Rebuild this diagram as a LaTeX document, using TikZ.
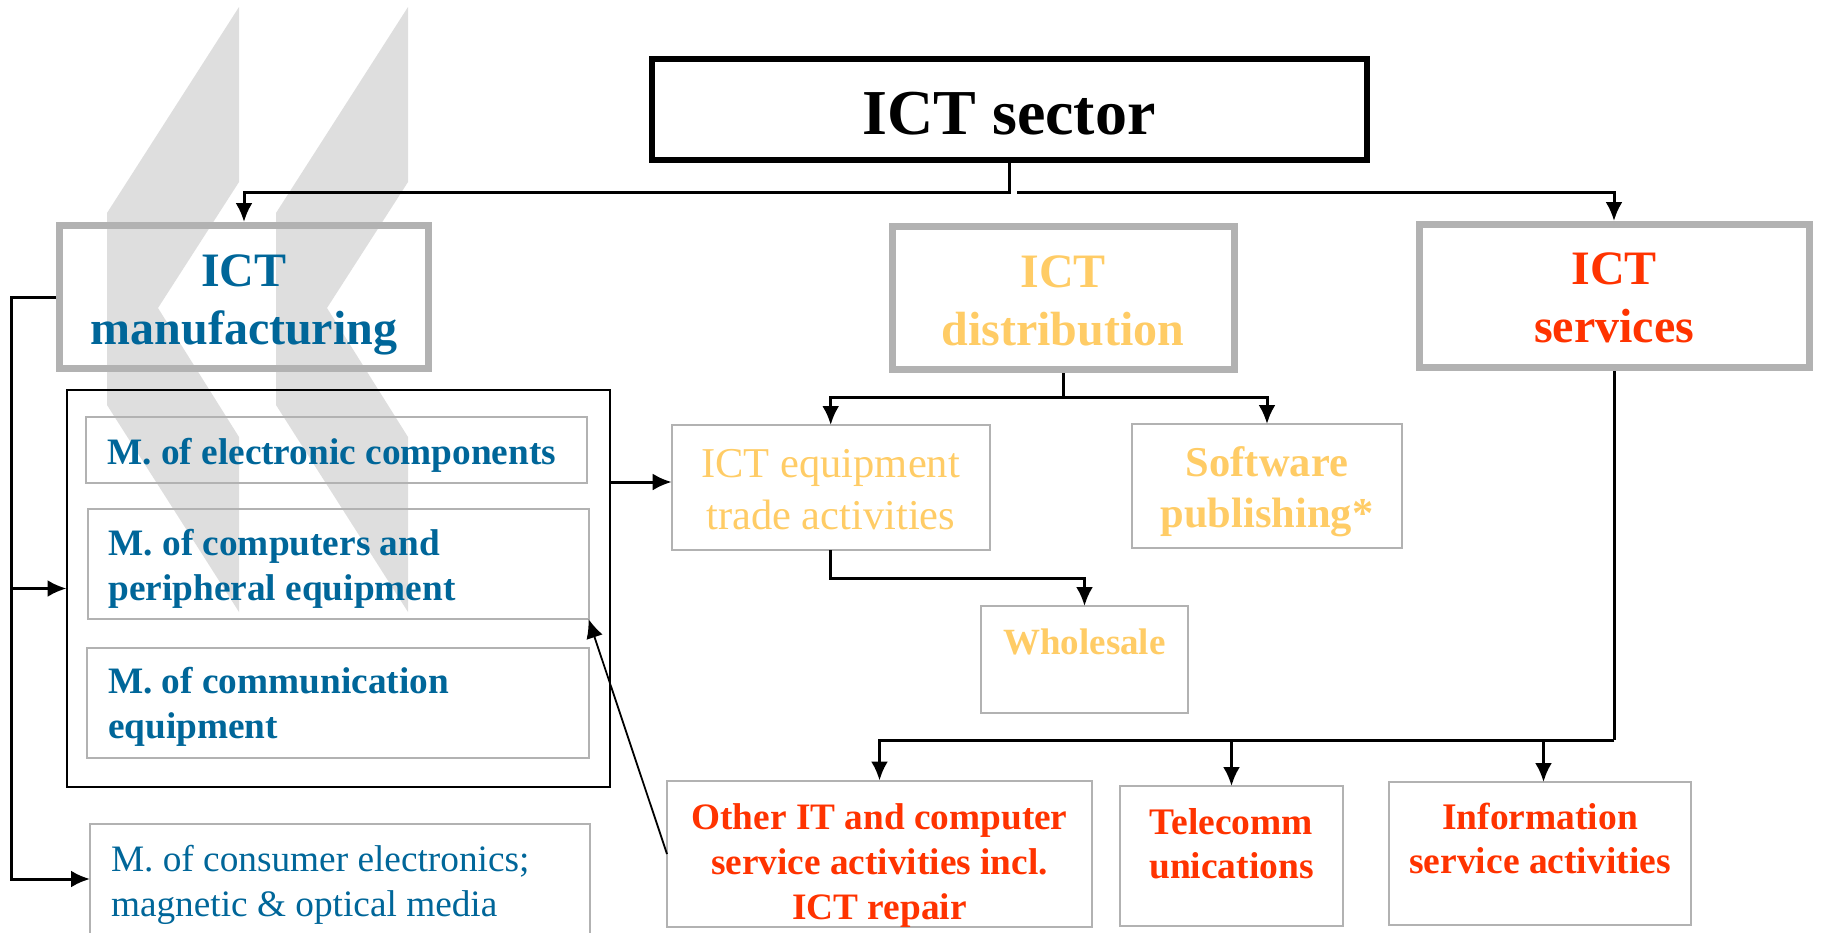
\documentclass[tikz,border=0pt]{standalone}
\usepackage{fontspec}
\setmainfont{Liberation Serif}
\usetikzlibrary{arrows.meta}
\definecolor{mfgblue}{HTML}{006699}
\definecolor{distyellow}{HTML}{FFCC66}
\definecolor{servred}{HTML}{FF3300}
\definecolor{boxgray}{HTML}{B2B2B2}
\definecolor{markgray}{HTML}{DEDEDE}
\newcommand{\fsize}[2]{\fontsize{#1pt}{#2pt}\selectfont}
\frenchspacing

\begin{document}
\begin{tikzpicture}[x=1pt,y=-1pt]
   \tikzstyle{every node}=[inner sep=0pt, align=center]
   \tikzstyle{head}=[draw=boxgray, line width=7pt, font=\bfseries\fsize{48}{58}]
   \tikzstyle{sub}=[draw=boxgray, line width=2pt, outer sep=0pt]
   \tikzstyle{leftsub}=[sub, align=flush left, text=mfgblue, font=\bfseries\fsize{37.3}{45}, inner xsep=21pt]
   \tikzstyle{conn}=[line width=3pt]
   \tikzstyle{arr}=[conn, -{Latex[length=19pt,width=17pt]}]
   \useasboundingbox (0,0) rectangle (1821,932);

   % background mark
   \foreach \dx in {0,169} {
      \fill[markgray, xshift=\dx] (239,7) -- (239,182) -- (158,308) -- (239,437) -- (239,612)
         -- (107,405) -- (107,213) -- cycle;
   }

\node[draw, line width=6pt, minimum width=715pt, minimum height=101pt, text height=50.5pt, font=\bfseries\fsize{64}{70}] (sector) at (1009,109.5) {ICT sector};

\node[head, text=mfgblue, minimum width=369pt, minimum height=143pt, text height=105pt] (mfg) at (244,297) {ICT\\manufacturing};
\node[head, text=distyellow, minimum width=342pt, minimum height=143pt, text height=95pt] (dist) at (1063,298) {ICT\\distribution};
\node[head, text=servred, minimum width=390pt, minimum height=143pt, text height=94pt] (serv) at (1614,296) {ICT\\services};

\node[draw, line width=2pt, outer sep=0pt, minimum width=543pt, minimum height=397pt] (frame) at (338,588.5) {};
\node[leftsub, text width=459pt, minimum height=66pt, text height=36pt] (elec) at (336.75,450) {M. of electronic components};
\node[leftsub, text width=459pt, minimum height=110pt, text height=35pt] (comp) at (338,564) {M. of computers and\\peripheral equipment};
\node[leftsub, text width=460pt, minimum height=110pt, text height=34pt] (comm) at (338,702.5) {M. of communication\\equipment};
\node[sub, align=flush left, text=mfgblue, font=\fsize{37.3}{45}, text width=458pt, inner xsep=21pt, minimum height=110pt, text height=38pt] (cons) at (340,879) {M. of consumer electronics;\\magnetic \& optical media};

\node[sub, text=distyellow, font=\fsize{42.5}{52}, minimum width=318pt, minimum height=125pt, text height=85pt] (equip) at (830.7,487.5) {ICT equipment\\trade activities};
\node[sub, text=distyellow, font=\bfseries\fsize{42.5}{51}, minimum width=270pt, minimum height=124pt, text height=92pt] (soft) at (1267,486) {Software\\publishing*};
\node[sub, text=distyellow, font=\bfseries\fsize{37}{45}, minimum width=207pt, minimum height=107pt, text height=79pt] (whole) at (1084.5,659.5) {Wholesale\\~};

\node[sub, text=servred, font=\bfseries\fsize{37.3}{45}, minimum width=425pt, minimum height=144pt, text height=139pt] (other) at (879.5,854) {Other IT and computer\\service activities incl.\\ICT repair};
\node[sub, text=servred, font=\bfseries\fsize{37.5}{44}, minimum width=223pt, minimum height=140pt, text depth=25.6pt] (tele) at (1231.5,856) {Telecomm\\unications};
\node[sub, text=servred, font=\bfseries\fsize{37.5}{44}, minimum width=302pt, minimum height=143pt, text depth=30pt] (info) at (1540,853.5) {Information\\service activities};

\coordinate (servstart) at (1017,192);
\coordinate (equipin) at ([yshift=5.5pt]equip.west);
\coordinate (infoin) at ([xshift=3.5pt]info.north);
\coordinate (bus) at (1614,740);

\draw[arr] (sector.south) -- ++(0,29.5) -| (mfg.north);
\draw[arr] (servstart) -| (serv.north);
\draw[arr] (dist.south) -- ++(0,24) -| (equip.north);
\draw[arr] (dist.south) -- ++(0,24) -| (soft.north);
\draw[arr] (equip.south) -- ++(0,28) -| (whole.north);
\draw[conn] (serv.south) -- (bus);
\draw[arr] (bus) -| (other.north);
\draw[arr] (bus) -| (tele.north);
\draw[arr] (bus) -| (infoin);
\draw[arr] (mfg.west) -- ++(-45,0) |- (cons.west);
\draw[arr] (11,588.5) -- (frame.west);
\draw[arr] (frame.east |- equipin) -- (equipin);
\draw[arr, line width=1.8pt] (other.west) -- (comp.south east);

\end{tikzpicture}
\end{document}
